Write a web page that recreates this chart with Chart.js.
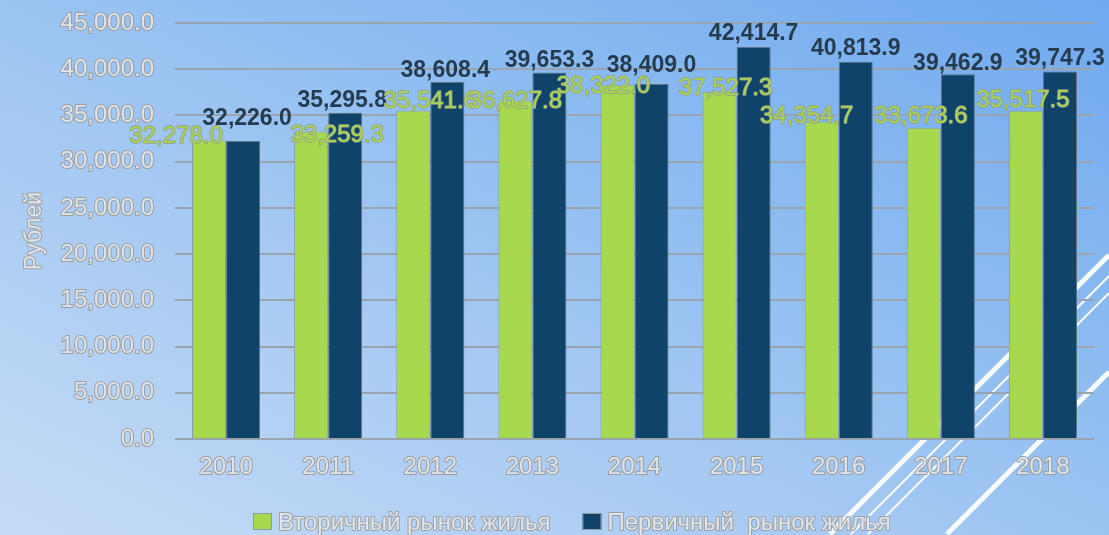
<!DOCTYPE html>
<html><head><meta charset="utf-8">
<script src="https://cdn.jsdelivr.net/npm/chart.js@4.4.0/dist/chart.umd.min.js"></script>
<style>
html,body{margin:0;padding:0;width:1109px;height:535px;overflow:hidden;}
body{background:linear-gradient(to bottom left,#70a9ef 0%,#8dbcf1 35%,#a9cbf3 65%,#c6dcf6 100%);}
canvas{display:block}
</style></head><body>
<canvas id="c" width="1109" height="535"></canvas>
<script>
const years = ['2010','2011','2012','2013','2014','2015','2016','2017','2018'];
const secondaryMarket = [32278.0, 33259.3, 35541.6, 36627.8, 38322.0, 37527.3, 34354.7, 33673.6, 35517.5];
const primaryMarket = [32226.0, 35295.8, 38608.4, 39653.3, 38409.0, 42414.7, 40813.9, 39462.9, 39747.3];
const seriesNames = ['Вторичный рынок жилья', 'Первичный  рынок жилья'];
const yAxisTitle = 'Рублей';
const yMin = 0, yMax = 45000, yStep = 5000;

const fmt = v => Number(v).toLocaleString('en-US', {minimumFractionDigits: 1, maximumFractionDigits: 1});
const FONT = "'Liberation Sans', Arial, sans-serif";

function outlinedText(ctx, text, x, y, fill, stroke, lw) {
  if (stroke) { ctx.lineWidth = lw; ctx.strokeStyle = stroke; ctx.lineJoin = 'round'; ctx.strokeText(text, x, y); }
  ctx.fillStyle = fill; ctx.fillText(text, x, y);
}

const decorPlugin = {
  id: 'decor',
  beforeDraw(chart) {
    const ctx = chart.ctx;
    ctx.save();
    ctx.strokeStyle = 'rgba(255,255,255,0.95)';
    const lines = [[1109,255,830,534,5],[1109,276,851,534,2],[1109,293,868,534,2],[1109,372,947,534,5]];
    lines.forEach(l => { ctx.lineWidth = l[4]; ctx.beginPath(); ctx.moveTo(l[0], l[1]); ctx.lineTo(l[2], l[3]); ctx.stroke(); });
    ctx.restore();
  },
  afterDatasetsDraw(chart, args, opts) {
    const ctx = chart.ctx;
    ctx.save();
    ctx.textAlign = 'center';
    ctx.textBaseline = 'alphabetic';
    const m0 = chart.getDatasetMeta(0), m1 = chart.getDatasetMeta(1);
    ctx.font = "bold 23px " + FONT;
    m1.data.forEach((bar, i) => {
      outlinedText(ctx, fmt(chart.data.datasets[1].data[i]), bar.x + opts.darkDx[i], bar.y + opts.darkDy[i], '#253b50', null, 0);
    });
    ctx.font = "24px " + FONT;
    m0.data.forEach((bar, i) => {
      outlinedText(ctx, fmt(chart.data.datasets[0].data[i]), bar.x + opts.greenDx[i], bar.y + opts.greenDy[i], '#a9d452', '#929c88', 1.5);
    });
    ctx.save();
    ctx.translate(35, 231);
    ctx.rotate(-Math.PI / 2);
    ctx.font = "23px " + FONT;
    ctx.textAlign = 'center';
    ctx.textBaseline = 'middle';
    outlinedText(ctx, yAxisTitle, 0, 0, '#dfe5ec', '#a0a0a0', 2);
    ctx.restore();
    ctx.font = "24px " + FONT;
    ctx.textAlign = 'left';
    ctx.textBaseline = 'alphabetic';
    let x = 253;
    chart.data.datasets.forEach((ds, i) => {
      ctx.fillStyle = ds.backgroundColor;
      ctx.fillRect(x, 513, 19, 17);
      ctx.strokeStyle = '#8d9ba6'; ctx.lineWidth = 1;
      ctx.strokeRect(x + 0.5, 513.5, 18, 16);
      const tx = x + 25;
      outlinedText(ctx, ds.label, tx, 530, '#dfe5ec', '#a0a0a0', 2);
      x = tx + ctx.measureText(ds.label).width + 32;
    });
    ctx.restore();
  }
};

new Chart(document.getElementById('c'), {
  type: 'bar',
  data: {
    labels: years,
    datasets: [
      {label: seriesNames[0], data: secondaryMarket, backgroundColor: '#a6d94e', borderColor: '#8d9ba6', borderWidth: 1},
      {label: seriesNames[1], data: primaryMarket, backgroundColor: '#10436a', borderColor: '#5f7385', borderWidth: 1}
    ]
  },
  options: {
    responsive: false,
    animation: false,
    layout: {padding: {top: 23, right: 15, left: 0, bottom: 0}},
    datasets: {bar: {categoryPercentage: 0.667, barPercentage: 1.0}},
    plugins: {
      legend: {display: false},
      tooltip: {enabled: false},
      decor: {
        greenDx: [-33, 26, 17, 0, -14, 6, -15, -3, -3],
        greenDy: [2, 10, -2, 8, 8, 3, 2, -5, -4],
        darkDx: [4, -3, -2, 0, 0, 0, 0, 0, 0],
        darkDy: [-16, -6, -5, -5, -12, -7, -7, -4, -7]
      }
    },
    scales: {
      x: {
        grid: {display: false, drawTicks: false},
        border: {display: false},
        ticks: {font: {family: FONT, size: 24}, color: '#dfe5ec', textStrokeColor: '#9c9c9c', textStrokeWidth: 2, padding: 14, maxRotation: 0},
        afterFit(s) { s.height = 96; s.paddingLeft = 0; s.paddingRight = 0; }
      },
      y: {
        min: yMin, max: yMax,
        grid: {color: '#9aa4ae', lineWidth: 2, drawTicks: false},
        border: {display: false},
        ticks: {stepSize: yStep, callback: v => fmt(v), font: {family: FONT, size: 24}, color: '#dfe5ec', textStrokeColor: '#9c9c9c', textStrokeWidth: 2, padding: 21},
        afterFit(s) { s.width = 175; s.paddingTop = 0; s.paddingBottom = 0; }
      }
    }
  },
  plugins: [decorPlugin]
});
</script>
</body></html>
